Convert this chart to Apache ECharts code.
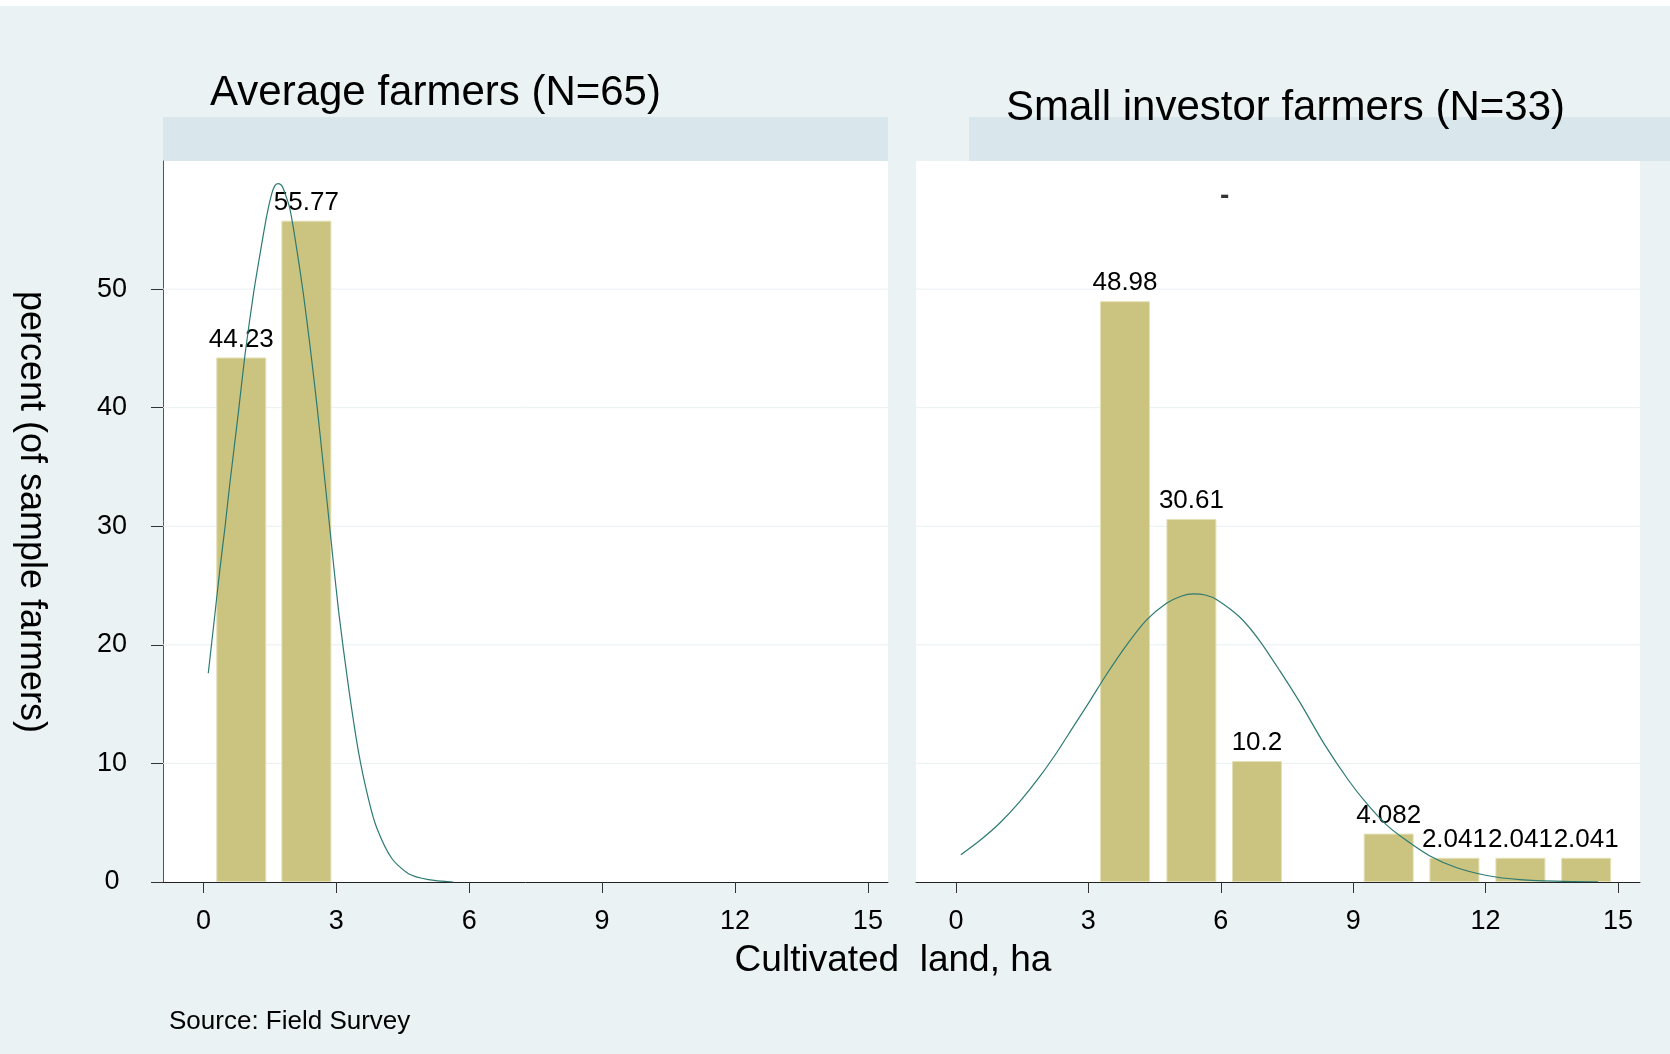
<!DOCTYPE html>
<html>
<head>
<meta charset="utf-8">
<title>Cultivated land histogram</title>
<script src="https://cdn.jsdelivr.net/npm/echarts@6/dist/echarts.min.js"></script>
<style>
html,body{margin:0;padding:0;background:#eaf2f3;}
#chart{width:1670px;height:1054px;}
</style>
</head>
<body>
<div id="chart"></div>
<script>
// ---- data ----
const xTicks = [0, 3, 6, 9, 12, 15];
const yTicks = [0, 10, 20, 30, 40, 50];
const gridValues = [10, 20, 30, 40, 50];

const avgBinCenters = [0.855, 2.325];
const avgPercent = [44.23, 55.77];

const smallBinCenters = [3.83, 5.335, 6.82, 9.805, 11.295, 12.79, 14.28];
const smallPercent = [48.98, 30.61, 10.2, 4.082, 2.041, 2.041, 2.041];

// normal curves
const avgCurveX = [0.11, 0.26, 0.37, 0.49, 0.60, 0.79, 0.94, 1.13, 1.28, 1.43, 1.54, 1.61, 1.68, 1.75, 1.80, 1.95, 2.11, 2.26, 2.41, 2.56, 2.71, 2.86, 3.05, 3.27, 3.50, 3.72, 3.91, 4.25, 4.63, 5.08, 5.64];
const avgCurveY = [17.6, 22.6, 26.3, 30.0, 33.7, 39.6, 44.5, 49.6, 53.0, 56.2, 58.0, 58.7, 58.9, 58.8, 58.5, 56.8, 53.3, 49.5, 45.1, 40.3, 35.0, 29.6, 22.9, 16.6, 11.0, 7.1, 4.6, 2.0, 0.7, 0.2, 0.0];

const smallCurveX = [0.11, 0.54, 1.00, 1.45, 1.90, 2.28, 2.66, 3.04, 3.41, 3.87, 4.32, 4.77, 5.10, 5.38, 5.65, 5.91, 6.44, 6.89, 7.34, 7.80, 8.35, 8.89, 9.31, 9.76, 10.21, 10.74, 11.35, 12.03, 12.78, 13.76, 14.55];
const smallCurveY = [2.3, 3.5, 5.0, 6.8, 8.9, 10.9, 13.1, 15.3, 17.5, 20.0, 22.1, 23.5, 24.1, 24.3, 24.2, 23.8, 22.3, 20.3, 17.8, 15.1, 11.6, 8.6, 6.6, 4.8, 3.5, 2.2, 1.2, 0.55, 0.2, 0.05, 0.02];

const dashMark = [[6.09, 57.8]];

// ---- chart ----
const FONT = '"Liberation Sans", Arial, Helvetica, sans-serif';
const barColor = '#cbc481';
const curveColor = '#2d7a73';

const zip = (xs, ys) => xs.map((x, i) => [x, ys[i]]);

function gridSeries(idx) {
  return {
    type: 'custom', xAxisIndex: idx, yAxisIndex: idx, silent: true, z: 1,
    data: gridValues.map(v => [0, v]),
    renderItem: function (params, api) {
      const cs = params.coordSys;
      const y = api.coord([0, api.value(1)])[1];
      return { type: 'line', shape: { x1: cs.x, y1: y, x2: cs.x + cs.width, y2: y },
               style: { stroke: '#e8f0f2', lineWidth: 1 } };
    }
  };
}

function barSeries(idx, centers, values) {
  return {
    type: 'bar', xAxisIndex: idx, yAxisIndex: idx, z: 2,
    data: centers.map((c, i) => [c, values[i]]),
    barWidth: 50,
    itemStyle: { color: barColor, borderColor: '#e5e0b6', borderWidth: 1 },
    label: { show: true, position: 'top', distance: 5, fontSize: 26, fontFamily: FONT, color: '#000',
             formatter: p => String(p.value[1]) }
  };
}

function curveSeries(idx, xs, ys) {
  return {
    type: 'line', xAxisIndex: idx, yAxisIndex: idx, z: 3,
    data: zip(xs, ys), showSymbol: false, smooth: 0.25, silent: true,
    lineStyle: { color: curveColor, width: 1.2 }
  };
}

function xAxisCfg(idx, min, max) {
  return {
    type: 'value', gridIndex: idx, min: min, max: max,
    axisLine: { show: true, onZero: false, lineStyle: { color: '#222', width: 1 } },
    axisTick: { show: true, customValues: xTicks, length: 11, lineStyle: { color: '#333' } },
    axisLabel: { show: true, customValues: xTicks, margin: 26, fontSize: 27, fontFamily: FONT, color: '#000' },
    splitLine: { show: false }
  };
}

const option = {
  backgroundColor: '#eaf2f3',
  animation: false,
  grid: [
    { left: 163, top: 161, width: 725, height: 721, show: true, backgroundColor: '#ffffff', borderWidth: 0 },
    { left: 916, top: 161, width: 724, height: 721, show: true, backgroundColor: '#ffffff', borderWidth: 0 }
  ],
  xAxis: [ xAxisCfg(0, -0.912, 15.454), xAxisCfg(1, -0.906, 15.50) ],
  yAxis: [
    { type: 'value', gridIndex: 0, min: 0, max: 60.8,
      axisLine: { show: true, onZero: false, lineStyle: { color: '#555', width: 1 } },
      axisTick: { show: true, customValues: yTicks, length: 12, lineStyle: { color: '#333' } },
      axisLabel: { show: true, customValues: yTicks, margin: 51, align: 'center', fontSize: 27, fontFamily: FONT, color: '#000' },
      splitLine: { show: false } },
    { type: 'value', gridIndex: 1, min: 0, max: 60.8,
      axisLine: { show: false }, axisTick: { show: false }, axisLabel: { show: false },
      splitLine: { show: false } }
  ],
  series: [
    gridSeries(0), gridSeries(1),
    barSeries(0, avgBinCenters, avgPercent),
    barSeries(1, smallBinCenters, smallPercent),
    curveSeries(0, avgCurveX, avgCurveY),
    curveSeries(1, smallCurveX, smallCurveY),
    { type: 'scatter', xAxisIndex: 1, yAxisIndex: 1, data: dashMark, symbolSize: 1, silent: true,
      itemStyle: { color: 'rgba(0,0,0,0)' },
      label: { show: true, position: 'inside', formatter: '-', fontSize: 28, fontWeight: 'bold', fontFamily: FONT, color: '#000' } }
  ],
  graphic: [
    { type: 'rect', shape: { x: 0, y: 0, width: 1670, height: 6 }, style: { fill: '#ffffff' }, silent: true },
    { type: 'rect', shape: { x: 163, y: 117, width: 725, height: 44 }, style: { fill: '#d9e6eb' }, silent: true },
    { type: 'rect', shape: { x: 969, y: 117, width: 701, height: 44 }, style: { fill: '#d9e6eb' }, silent: true },
    { type: 'text', x: 435.5, y: 93, silent: true,
      style: { text: 'Average farmers (N=65)', font: '42px ' + FONT, fill: '#000', textAlign: 'center', textVerticalAlign: 'middle' } },
    { type: 'text', x: 1285.5, y: 108, silent: true,
      style: { text: 'Small investor farmers (N=33)', font: '42px ' + FONT, fill: '#000', textAlign: 'center', textVerticalAlign: 'middle' } },
    { type: 'text', x: 893, y: 961, silent: true,
      style: { text: 'Cultivated  land, ha', font: '37px ' + FONT, fill: '#000', textAlign: 'center', textVerticalAlign: 'middle' } },
    { type: 'text', x: 169, y: 1022, silent: true,
      style: { text: 'Source: Field Survey', font: '26px ' + FONT, fill: '#000', textAlign: 'left', textVerticalAlign: 'middle' } },
    { type: 'text', x: 31, y: 512, rotation: -Math.PI / 2, silent: true,
      style: { text: 'percent (of sample farmers)', font: '36px ' + FONT, fill: '#000', textAlign: 'center', textVerticalAlign: 'middle' } }
  ]
};

const chart = echarts.init(document.getElementById('chart'), null, { renderer: 'canvas' });
chart.setOption(option);
</script>
</body>
</html>
